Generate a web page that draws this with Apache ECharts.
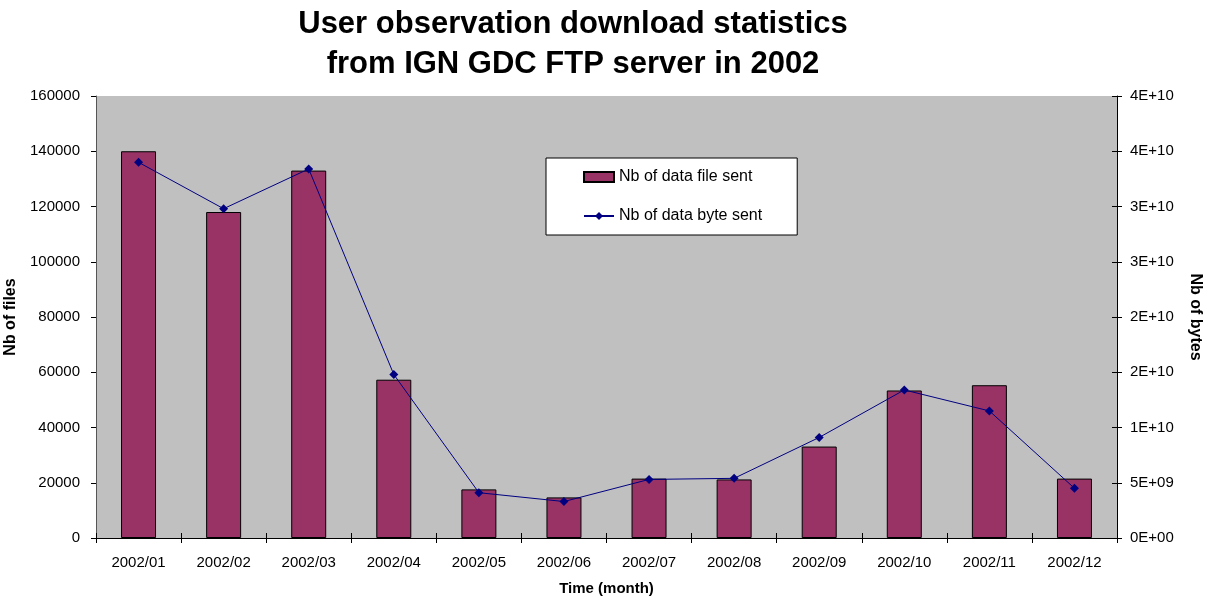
<!DOCTYPE html>
<html>
<head>
<meta charset="utf-8">
<script src="https://cdn.jsdelivr.net/npm/echarts@6/dist/echarts.min.js"></script>
<style>
html,body{margin:0;padding:0;background:#fff;}
#chart{width:1211px;height:601px;}
</style>
</head>
<body>
<div id="chart"></div>
<script>
const months = ['2002/01','2002/02','2002/03','2002/04','2002/05','2002/06','2002/07','2002/08','2002/09','2002/10','2002/11','2002/12'];
const filesSent = [140000, 118000, 133000, 57300, 17600, 14700, 21500, 21200, 33100, 53400, 55300, 21500];
const bytesSent = [34.0e9, 29.8e9, 33.4e9, 14.8e9, 4.1e9, 3.3e9, 5.3e9, 5.4e9, 9.1e9, 13.4e9, 11.5e9, 4.5e9];
const leftTicks = ['0','20000','40000','60000','80000','100000','120000','140000','160000'];
const rightTicks = ['0E+00','5E+09','1E+10','2E+10','2E+10','3E+10','3E+10','4E+10','4E+10'];

const FONT = '"Liberation Sans", Arial, sans-serif';
const chart = echarts.init(document.getElementById('chart'), null, {renderer:'canvas'});
chart.setOption({
  animation: false,
  backgroundColor: '#ffffff',
  textStyle: {fontFamily: FONT},
  title: {
    text: 'User observation download statistics\nfrom IGN GDC FTP server in 2002',
    left: 568, top: -1, textAlign: 'center',
    textStyle: {fontFamily: FONT, fontSize: 31, fontWeight: 'bold', color: '#000', lineHeight: 40}
  },
  legend: {
    orient: 'vertical',
    left: 546, top: 158,
    backgroundColor: '#ffffff',
    borderColor: '#000000', borderWidth: 1,
    padding: [11, 35, 11, 37],
    itemWidth: 30, itemHeight: 10, itemGap: 23,
    textStyle: {fontFamily: FONT, fontSize: 16, color: '#000'},
    data: [{name: 'Nb of data file sent', icon: 'rect'}, {name: 'Nb of data byte sent'}]
  },
  grid: {left: 96, right: 94, top: 96, bottom: 63, show: true, backgroundColor: '#c0c0c0', borderWidth: 0, outerBoundsMode: 'none', containLabel: false},
  xAxis: [{
    type: 'category', data: months, boundaryGap: true,
    axisLine: {lineStyle: {color: '#000', width: 1}},
    axisTick: {show: true, inside: false, length: 5, alignWithLabel: false, lineStyle: {color: '#000'}},
    axisLabel: {fontFamily: FONT, fontSize: 15, color: '#000', margin: 17, interval: 0},
    name: 'Time (month)', nameLocation: 'middle', nameGap: 43,
    nameTextStyle: {fontFamily: FONT, fontSize: 15, fontWeight: 'bold', color: '#000'}
  }, {
    type: 'category', data: months, boundaryGap: true, position: 'bottom',
    axisLine: {show: false},
    axisTick: {show: true, inside: true, length: 5, lineStyle: {color: '#000'}},
    axisLabel: {show: false}
  }],
  yAxis: [{
    type: 'value', min: 0, max: 160000, interval: 20000, position: 'left',
    axisLine: {show: true, lineStyle: {color: '#555', width: 1}},
    axisTick: {show: true, length: 5, lineStyle: {color: '#000'}},
    splitLine: {show: false},
    axisLabel: {fontFamily: FONT, fontSize: 15, color: '#000', margin: 16,
      formatter: v => leftTicks[Math.round(v / 20000)]},
    name: 'Nb of files', nameLocation: 'middle', nameGap: 72, nameRotate: 90,
    nameTextStyle: {fontFamily: FONT, fontSize: 16, fontWeight: 'bold', color: '#000'}
  }, {
    type: 'value', min: 0, max: 4e10, interval: 5e9, position: 'right',
    axisLine: {show: true, lineStyle: {color: '#000', width: 1}},
    axisTick: {show: true, length: 5, lineStyle: {color: '#000'}},
    splitLine: {show: false},
    axisLabel: {fontFamily: FONT, fontSize: 15, color: '#000', margin: 13,
      formatter: v => rightTicks[Math.round(v / 5e9)]},
    name: 'Nb of bytes', nameLocation: 'middle', nameGap: 70, nameRotate: -90,
    nameTextStyle: {fontFamily: FONT, fontSize: 16, fontWeight: 'bold', color: '#000'}
  }, {
    type: 'value', min: 0, max: 4e10, interval: 5e9, position: 'right',
    axisLine: {show: false},
    axisTick: {show: true, inside: true, length: 5, lineStyle: {color: '#000'}},
    splitLine: {show: false},
    axisLabel: {show: false}
  }],
  series: [{
    name: 'Nb of data file sent',
    type: 'bar', data: filesSent, xAxisIndex: 0, yAxisIndex: 0,
    barWidth: 35,
    itemStyle: {color: '#993366', borderColor: '#000', borderWidth: 1}
  }, {
    name: 'Nb of data byte sent',
    type: 'line', data: bytesSent, xAxisIndex: 0, yAxisIndex: 1,
    symbol: 'diamond', symbolSize: 9,
    lineStyle: {color: '#000080', width: 1},
    itemStyle: {color: '#000080'}
  }]
});
</script>
</body>
</html>
